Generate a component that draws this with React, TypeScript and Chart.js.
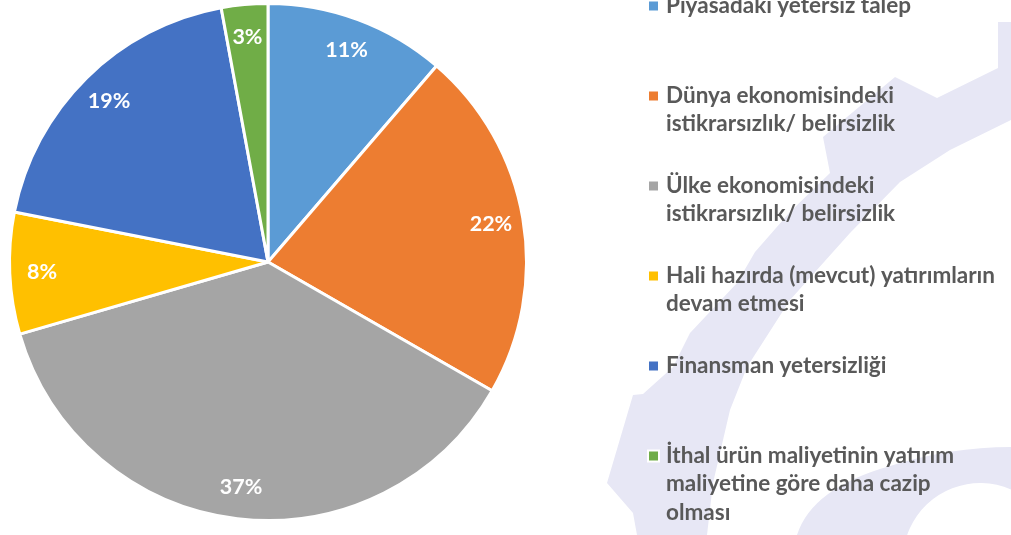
import React, { useEffect, useRef } from "react";
import { Chart, registerables } from "chart.js";

Chart.register(...registerables);

const categories: string[][] = [
  ["Piyasadaki yetersiz talep"],
  ["Dünya ekonomisindeki", "istikrarsızlık/ belirsizlik"],
  ["Ülke ekonomisindeki", "istikrarsızlık/ belirsizlik"],
  ["Hali hazırda (mevcut) yatırımların", "devam etmesi"],
  ["Finansman yetersizliği"],
  ["İthal ürün maliyetinin yatırım", "maliyetine göre daha cazip", "olması"],
];
const shares: number[] = [11.3, 22.0, 37.2, 7.6, 19.0, 2.9];
const percentLabels: string[] = ["11%", "22%", "37%", "8%", "19%", "3%"];
const sliceColors: string[] = ["#5B9BD5", "#ED7D31", "#A5A5A5", "#FFC000", "#4472C4", "#70AD47"];

const FONT = "Lato, 'Open Sans', sans-serif";

const watermarkPlugin = {
  id: "watermark",
  beforeDraw(chart: any) {
    const ctx = chart.ctx;
    ctx.save();
    ctx.fillStyle = "#e7e7f5";
    // diagonal band
    const band: [number, number][] = [
      [1011, 22], [998, 22], [998, 68], [937, 98], [895, 77], [823, 137], [830, 173],
      [790, 212], [755, 252], [737, 283], [690, 333], [673, 367], [643, 394], [633, 395],
      [607, 483], [633, 513], [637, 535],
      [707, 535], [713, 483], [730, 410], [747, 367], [790, 300], [850, 233], [900, 182],
      [950, 150], [1011, 120],
    ];
    ctx.beginPath();
    band.forEach(([x, y], i) => (i ? ctx.lineTo(x, y) : ctx.moveTo(x, y)));
    ctx.closePath();
    ctx.fill();
    // bottom-right arch shape
    ctx.beginPath();
    ctx.moveTo(797, 535);
    ctx.quadraticCurveTo(812, 488, 890, 466);
    ctx.quadraticCurveTo(950, 447, 1011, 447);
    ctx.lineTo(1011, 490);
    ctx.arc(980, 560, 77, Math.atan2(-70, 31), Math.atan2(-25, -73), true);
    ctx.closePath();
    ctx.fill();
    ctx.restore();
  },
};

const sliceLabelPlugin = {
  id: "sliceLabels",
  afterDatasetsDraw(chart: any) {
    const ctx = chart.ctx;
    const meta = chart.getDatasetMeta(0);
    ctx.save();
    ctx.fillStyle = "#ffffff";
    ctx.font = `bold 21.5px ${FONT}`;
    ctx.textAlign = "center";
    ctx.textBaseline = "middle";
    meta.data.forEach((arc: any, i: number) => {
      const { x, y, startAngle, endAngle, outerRadius } = arc.getProps(
        ["x", "y", "startAngle", "endAngle", "outerRadius"],
        true
      );
      const mid = (startAngle + endAngle) / 2;
      const r = outerRadius * 0.875;
      ctx.fillText(percentLabels[i], x + Math.cos(mid) * r, y + Math.sin(mid) * r);
    });
    ctx.restore();
  },
};

const sideLegendPlugin = {
  id: "sideLegend",
  afterDraw(chart: any) {
    const ctx = chart.ctx;
    const labels: string[][] = chart.data.labels;
    const colors: string[] = chart.data.datasets[0].backgroundColor;
    ctx.save();
    ctx.font = `bold 22.5px ${FONT}`;
    ctx.textAlign = "left";
    ctx.textBaseline = "alphabetic";
    const x0 = 649;
    const textX = 666;
    labels.forEach((lines, i) => {
      const base = 12.5 + 90 * i;
      ctx.fillStyle = "#ffffff";
      ctx.fillRect(x0 - 2, base - 13, 13, 13);
      ctx.fillStyle = colors[i];
      ctx.fillRect(x0, base - 11, 9, 9);
      ctx.fillStyle = "#595959";
      lines.forEach((line, j) => ctx.fillText(line, textX, base + j * 28.5));
    });
    ctx.restore();
  },
};

export default function App() {
  const canvasRef = useRef<HTMLCanvasElement | null>(null);

  useEffect(() => {
    if (!canvasRef.current) return;
    const chart = new Chart(canvasRef.current, {
      type: "pie",
      data: {
        labels: categories as any,
        datasets: [
          {
            data: shares,
            backgroundColor: sliceColors,
            borderColor: "#ffffff",
            borderWidth: 3,
          },
        ],
      },
      options: {
        animation: false,
        responsive: false,
        maintainAspectRatio: false,
        layout: { padding: { left: 8, right: 483, top: 2, bottom: 13 } },
        plugins: {
          legend: { display: false },
          tooltip: { enabled: false },
        },
      },
      plugins: [watermarkPlugin, sliceLabelPlugin, sideLegendPlugin],
    });
    return () => chart.destroy();
  }, []);

  return (
    <div style={{ position: "fixed", left: 0, top: 0, width: 1011, height: 535, background: "#ffffff" }}>
      <canvas ref={canvasRef} width={1011} height={535} style={{ width: 1011, height: 535 }} />
    </div>
  );
}
